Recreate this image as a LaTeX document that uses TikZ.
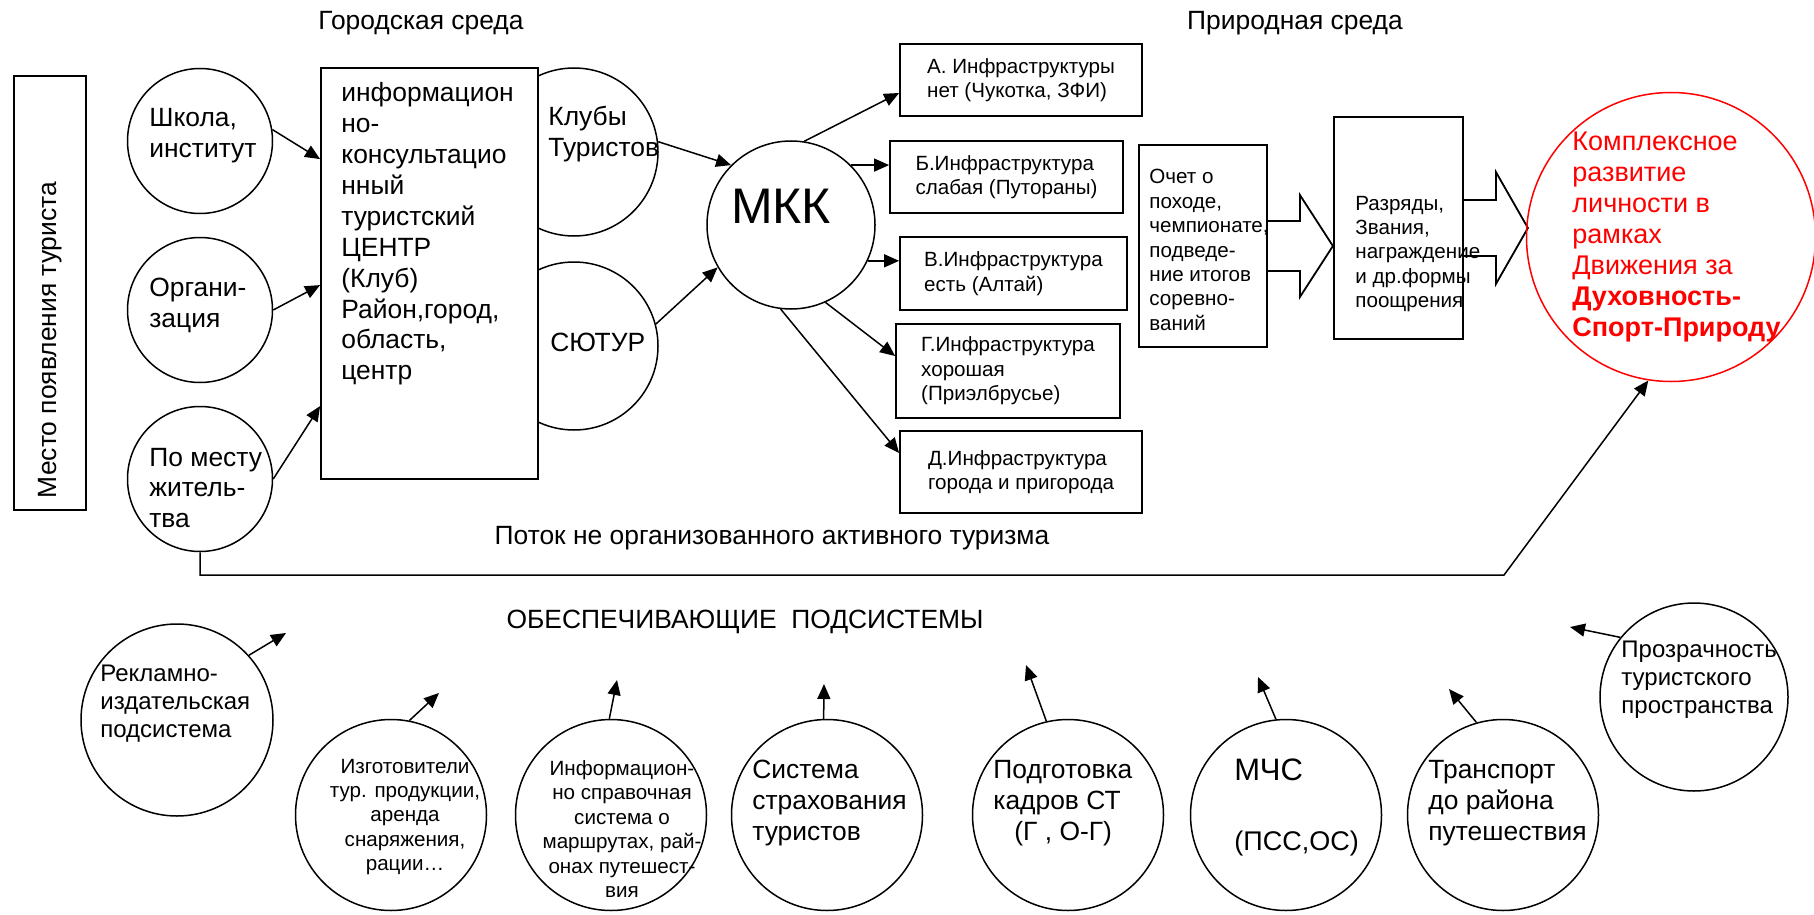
\documentclass[tikz,border=0pt]{standalone}
\usepackage{fontspec}
\setmainfont{Liberation Sans}
\usetikzlibrary{arrows.meta, calc, positioning}
\tikzset{
    %Define standard arrow tip
    >={Triangle[length=7.5pt,width=6.5pt]},
    %Define style for boxes
    box/.style={
           rectangle,
           draw=black, line width=0.9pt,
           fill=white,
           inner sep=0pt},
    %circles
    ring/.style={
           circle,
           draw=black, line width=0.75pt,
           inner sep=0pt},
    %texts
    txt/.style={font=\fontsize{13.2}{15.45}\selectfont, align=left, inner sep=0pt},
    sml/.style={font=\fontsize{10.3}{12.2}\selectfont, align=left, inner sep=0pt},
    mid/.style={font=\fontsize{12}{14}\selectfont, align=left, inner sep=0pt},
    % Define arrow style
    pil/.style={
           ->,
           line width=0.75pt},
    blk/.style={line width=0.9pt}
}

\begin{document}
\begin{tikzpicture}[x=0.5pt, y=-0.5pt]
\useasboundingbox (0,0) rectangle (1814,915);

\node[txt] (gor) at (421,23) {Городская среда};
\node[txt] (prir) at (1295,23) {Природная среда};

\node[box, minimum width=36pt, minimum height=217pt] (mesto) at (50,293) {};
\node[txt, rotate=90] (mestoT) at (50,340) {Место появления туриста};

\node[ring, minimum size=72.5pt] (shk) at (200,141) {};
\node[ring, minimum size=72.5pt] (org) at (200,310) {};
\node[ring, minimum size=72.5pt] (pom) at (200,479) {};
\node[txt, anchor=west] (shkT) at (149,136) {Школа,\\институт};
\node[txt, anchor=west] (orgT) at (149,305) {Органи-\\зация};
\node[txt, anchor=west] (pomT) at (149,488) {По месту\\житель-\\тва};

\node[ring, minimum size=84pt] (kluby) at (574,152) {};
\node[ring, minimum size=84pt] (sjutur) at (574,346) {};
\node[box, minimum width=108.5pt, minimum height=205.5pt] (centr) at (429.5,273.5) {};
\node[txt, anchor=west] (centrT) at (341,234) {информацион\\но-\\консультацио\\нный\\туристский\\ЦЕНТР\\(Клуб)\\Район,город,\\область,\\центр};
\node[txt, anchor=west] (klubyT) at (548,134) {Клубы\\Туристов};
\node[txt, anchor=west] (sjuturT) at (550,342) {СЮТУР};

\node[ring, minimum size=84pt] (mkk) at (791,225) {};
\node[font=\fontsize{25}{28}\selectfont, inner sep=0pt] (mkkT) at (781,206) {МКК};

\node[box, sml, minimum width=121pt, minimum height=36pt] (A) at (1021,80) {А. Инфраструктуры\\нет (Чукотка, ЗФИ)};
\node[box, sml, minimum width=116.5pt, minimum height=36pt] (B) at (1006.5,177) {Б.Инфраструктура\\слабая (Путораны)};
\node[box, sml, minimum width=113.5pt, minimum height=36.5pt] (V) at (1013.5,273.5) {В.Инфраструктура\\есть (Алтай)};
\node[box, sml, minimum width=112pt, minimum height=47pt] (G) at (1008,371) {Г.Инфраструктура\\хорошая\\(Приэлбрусье)};
\node[box, sml, minimum width=121pt, minimum height=41pt] (D) at (1021,472) {Д.Инфраструктура\\города и пригорода};

\node[box, minimum width=64pt, minimum height=101pt] (otch) at (1203,246) {};
\node[sml, anchor=west] (otchT) at (1149,250) {Очет о\\походе,\\чемпионате,\\подведе-\\ние итогов\\соревно-\\ваний};
\node[box, minimum width=64.5pt, minimum height=111pt] (razr) at (1398.5,228) {};
\node[sml, anchor=west] (razrT) at (1355,254) {Разряды,\\Звания,\\награждение\\и др.формы\\поощрения};

\draw[blk] (otch.east) ++(0,-25) -- ++(32,0) -- ++(0,-26) -- ++(33,51) -- ++(-33,51) -- ++(0,-26) -- ++(-32,0);
\draw[blk] (razr.east) ++(0,-28) -- ++(32,0) -- ++(0,-28) -- ++(32,56) -- ++(-32,56) -- ++(0,-28) -- ++(-32,0);

\node[ring, draw=red, minimum size=144.5pt] (goal) at (1671,237) {};
\node[font=\fontsize{13.5}{15.5}\selectfont, text=red, align=left, inner sep=0pt, anchor=west] (goalT) at (1572,237) {Комплексное\\развитие\\личности в\\рамках\\Движения за\\\textbf{Духовность-}\\\textbf{Спорт-Природу}};

\path
 (shk.9)     edge[pil] ($(centr.north west)+(0,92)$)
 (org.east)  edge[pil] ($(centr.north west)+(0,218)$)
 (pom.east)  edge[pil] ($(centr.north west)+(0,339)$)
 (kluby.7)   edge[pil] (mkk.135)
 (sjutur.15) edge[pil] (mkk.-150)
 (mkk.81)    edge[pil] ($(A.west)+(0,13)$)
 (mkk.45)    edge[pil] (B.west |- mkk.45)
 (mkk.-25)   edge[pil] (V.west |- mkk.-25)
 (mkk.-66)   edge[pil] ($(G.west)+(0,-15)$)
 (mkk.-97)   edge[pil] ($(D.west)+(0,-19)$);

\node[txt] (potok) at (772,538) {Поток не организованного активного туризма};
\coordinate (flowA) at (200,575);
\coordinate (flowB) at (1504,575);
\draw[pil] (pom.south) -- (flowA) -- (flowB) -- (goal.-99);

\node[txt] (obesp) at (745,622) {ОБЕСПЕЧИВАЮЩИЕ\ \ ПОДСИСТЕМЫ};

\node[ring, minimum size=96pt] (rek) at (177,720) {};
\node[mid, anchor=west] (rekT) at (100,704) {Рекламно-\\издательская\\подсистема};
\node[ring, minimum size=95.5pt] (izg) at (391,815) {};
\node[sml, align=center] (izgT) at (405,817) {Изготовители\\тур. продукции,\\аренда\\снаряжения,\\рации…};
\node[ring, minimum size=95.5pt] (spr) at (611,815) {};
\node[sml, align=center] (sprT) at (622,829) {Информацион-\\но справочная\\система о\\маршрутах, рай-\\онах путешест-\\вия};
\node[ring, minimum size=95.5pt] (strah) at (827,815) {};
\node[txt, anchor=west] (strahT) at (752,803) {Система\\страхования\\туристов};
\node[ring, minimum size=95.5pt] (kadr) at (1068,815) {};
\node[txt, anchor=west] (kadrT) at (993,803) {Подготовка\\кадров СТ\\\hspace*{10.5pt}(Г , О-Г)};
\node[ring, minimum size=95.5pt] (mchs) at (1286,815) {};
\node[font=\fontsize{13.5}{16}\selectfont, align=left, inner sep=0pt, anchor=west] (mchsT) at (1234,807) {{\fontsize{15.5}{17.5}\selectfont МЧС}\\[19pt](ПСС,ОС)};
\node[ring, minimum size=95.5pt] (trans) at (1503,815) {};
\node[txt, anchor=west] (transT) at (1428,803) {Транспорт\\до района\\путешествия};
\node[ring, minimum size=94pt] (prozr) at (1694,697) {};
\node[mid, anchor=west] (prozrT) at (1621,680) {Прозрачность\\туристского\\пространства};

\coordinate (rekE) at (286,633);
\coordinate (izgE) at (439,693);
\coordinate (sprE) at (617,680);
\coordinate (strahE) at (824,684);
\coordinate (kadrE) at (1026,665);
\coordinate (mchsE) at (1258,677);
\coordinate (transE) at (1449,689);
\coordinate (prozrE) at (1570,627);

\path
 (rek.42)    edge[pil] (rekE)
 (izg.79)    edge[pil] (izgE)
 (spr.91)    edge[pil] (sprE)
 (strah.92)  edge[pil] (strahE)
 (kadr.103)  edge[pil] (kadrE)
 (mchs.96)   edge[pil] (mchsE)
 (trans.106) edge[pil] (transE)
 (prozr.141) edge[pil] (prozrE);

\end{tikzpicture}
\end{document}
